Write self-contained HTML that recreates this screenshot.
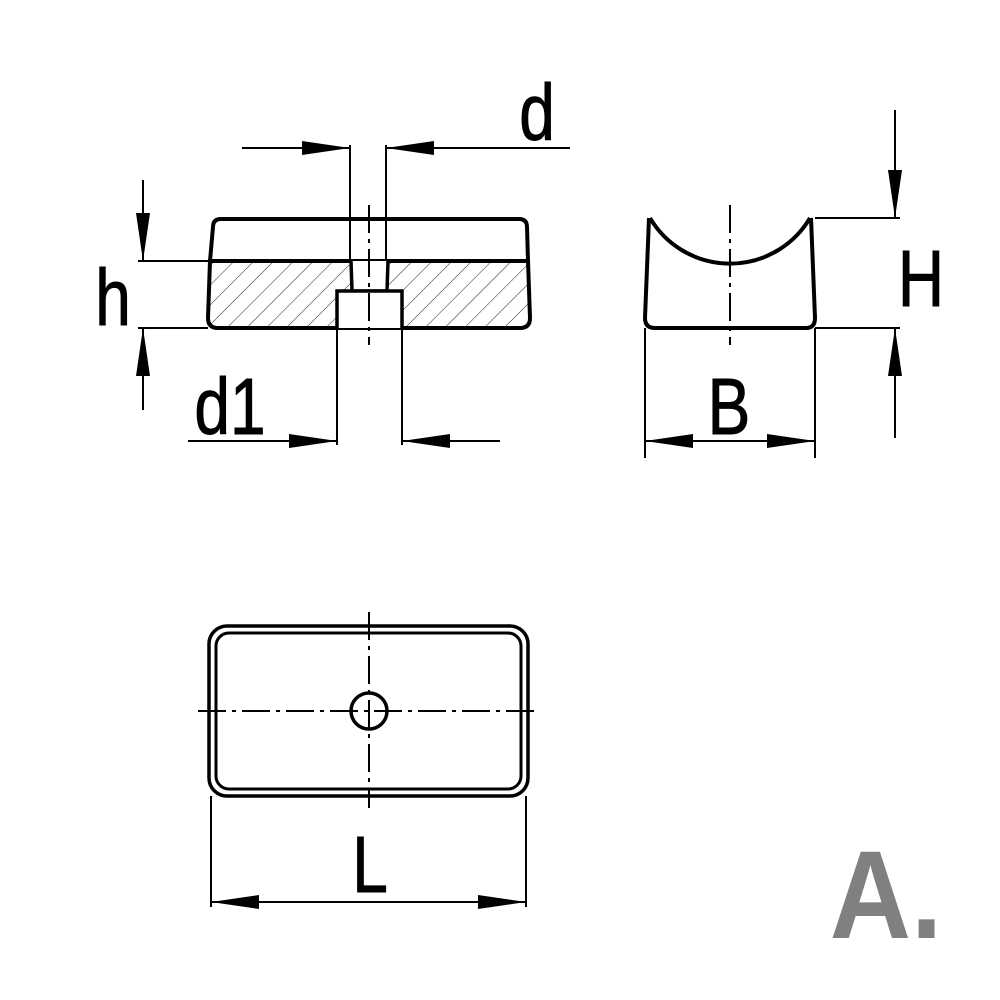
<!DOCTYPE html>
<html><head><style>body{margin:0;background:#fff}svg{display:block}</style></head><body>
<svg width="1000" height="1000" viewBox="0 0 1000 1000" xmlns="http://www.w3.org/2000/svg">
<defs>
<pattern id="h" width="14" height="14" patternUnits="userSpaceOnUse" patternTransform="rotate(45)">
<line x1="0" y1="0" x2="0" y2="14" stroke="#222" stroke-width="1"/>
</pattern>
<marker id="a" viewBox="0 0 48 14" refX="48" refY="7" markerWidth="48" markerHeight="14" markerUnits="userSpaceOnUse" orient="auto">
<path d="M0,0 L48,7 L0,14 Z" fill="#000"/>
</marker>
</defs>
<g fill="none" stroke="#000">
<path d="M210,261 L351,261 L352,291 L337,291 L337,328 L216,328 Q208,328 208,318 Z" fill="url(#h)" stroke="none"/>
<path d="M388,261 L528,261 L530,318 Q530,328 522,328 L402,328 L402,291 L388,291 Z" fill="url(#h)" stroke="none"/>
<path d="M221,219 L519,219 Q527,219 527,227 L528,261 M213,227 Q213,219 221,219 M213,227 L210,261" stroke-width="4"/>
<path d="M210,261 L208,318 Q208,328 218,328 L520,328 Q530,328 530,318 L528,261 Z" stroke-width="4"/>
<line x1="210" y1="261" x2="528" y2="261" stroke-width="4"/>
<path d="M351,261 L352,291 L387,291 L388,261" stroke-width="3.5" fill="#fff"/>
<path d="M337,328 L337,291 L402,291 L402,328" stroke-width="3.5" fill="#fff"/>
<line x1="369" y1="205" x2="369" y2="345" stroke-width="2" stroke-dasharray="28,6,4,6"/>
<line x1="350" y1="145" x2="350" y2="261" stroke-width="2"/>
<line x1="386" y1="145" x2="386" y2="261" stroke-width="2"/>
<line x1="242" y1="148" x2="350" y2="148" stroke-width="2" marker-end="url(#a)"/>
<line x1="570" y1="148" x2="386" y2="148" stroke-width="2" marker-end="url(#a)"/>
<line x1="138" y1="261" x2="210" y2="261" stroke-width="2"/>
<line x1="138" y1="328" x2="208" y2="328" stroke-width="2"/>
<line x1="143" y1="180" x2="143" y2="261" stroke-width="2" marker-end="url(#a)"/>
<line x1="143" y1="410" x2="143" y2="328" stroke-width="2" marker-end="url(#a)"/>
<line x1="337" y1="328" x2="337" y2="445" stroke-width="2"/>
<line x1="402" y1="328" x2="402" y2="445" stroke-width="2"/>
<line x1="188" y1="441" x2="337" y2="441" stroke-width="2" marker-end="url(#a)"/>
<line x1="500" y1="441" x2="402" y2="441" stroke-width="2" marker-end="url(#a)"/>
<path d="M650,218 A93,93 0 0 0 810,218" stroke-width="4"/>
<path d="M649,218 L645,318 Q645,328 655,328 L806,328 Q815,328 815,318 L811,218" stroke-width="4"/>
<line x1="730" y1="205" x2="730" y2="345" stroke-width="2" stroke-dasharray="28,6,4,6"/>
<line x1="645" y1="328" x2="645" y2="458" stroke-width="2"/>
<line x1="815" y1="328" x2="815" y2="458" stroke-width="2"/>
<line x1="730" y1="441" x2="645" y2="441" stroke-width="2" marker-end="url(#a)"/>
<line x1="730" y1="441" x2="815" y2="441" stroke-width="2" marker-end="url(#a)"/>
<line x1="815" y1="218" x2="900" y2="218" stroke-width="2"/>
<line x1="815" y1="328" x2="900" y2="328" stroke-width="2"/>
<line x1="895" y1="110" x2="895" y2="218" stroke-width="2" marker-end="url(#a)"/>
<line x1="895" y1="438" x2="895" y2="328" stroke-width="2" marker-end="url(#a)"/>
<rect x="209" y="626" width="319" height="170" rx="18" stroke-width="3.5"/>
<rect x="216" y="633" width="305" height="156" rx="13" stroke-width="3"/>
<circle cx="369" cy="711" r="18" stroke-width="3.5"/>
<line x1="369" y1="612" x2="369" y2="808" stroke-width="2" stroke-dasharray="28,6,4,6"/>
<line x1="198" y1="711" x2="540" y2="711" stroke-width="2" stroke-dasharray="28,6,4,6"/>
<line x1="211" y1="796" x2="211" y2="907" stroke-width="2"/>
<line x1="526" y1="796" x2="526" y2="907" stroke-width="2"/>
<line x1="370" y1="902" x2="211" y2="902" stroke-width="2" marker-end="url(#a)"/>
<line x1="370" y1="902" x2="526" y2="902" stroke-width="2" marker-end="url(#a)"/>
</g>
<g font-family="'Liberation Sans',sans-serif" font-size="80" fill="#000" stroke="#000" stroke-width="1">
<text x="537" y="140" text-anchor="middle" transform="translate(537 0) scale(0.8 1) translate(-537 0)">d</text>
<text x="113" y="325" text-anchor="middle" transform="translate(113 0) scale(0.8 1) translate(-113 0)">h</text>
<text x="230" y="434" text-anchor="middle" transform="translate(230 0) scale(0.8 1) translate(-230 0)">d1</text>
<text x="729" y="434" text-anchor="middle" transform="translate(729 0) scale(0.8 1) translate(-729 0)">B</text>
<text x="921" y="306" text-anchor="middle" transform="translate(921 0) scale(0.8 1) translate(-921 0)">H</text>
<text x="370" y="892" text-anchor="middle" transform="translate(370 0) scale(0.8 1) translate(-370 0)">L</text>
</g>
<text x="886" y="938" text-anchor="middle" font-family="'Liberation Sans',sans-serif" font-weight="bold" font-size="125" fill="#808080" transform="translate(886 0) scale(0.9 1) translate(-886 0)">A.</text>
</svg>
</body></html>
